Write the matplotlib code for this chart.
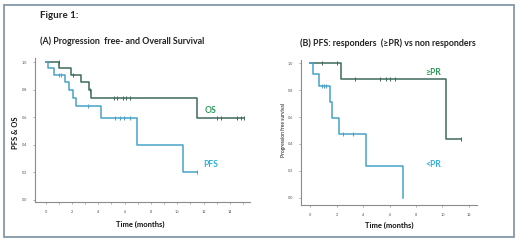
import matplotlib
matplotlib.use("Agg")
import matplotlib.pyplot as plt
from matplotlib.patches import Rectangle

plt.rcParams['font.family'] = ['Lato', 'DejaVu Sans']

# ---- Data ----
# Panel A
os_times = [0, 1.03, 1.9, 2.7, 3.27, 3.44, 11.5, 15.1]
os_surv = [1.0, 0.955, 0.91, 0.853, 0.80, 0.74, 0.593, 0.593]
os_cens_t = [1.0, 2.05, 3.4, 5.2, 5.45, 5.9, 6.1, 6.4, 13.0, 13.3, 14.5, 14.8, 15.1]
pfs_times = [0, 0.2, 0.65, 1.5, 1.8, 2.1, 2.28, 4.2, 6.95, 10.4, 11.5]
pfs_surv = [1.0, 0.958, 0.91, 0.853, 0.80, 0.74, 0.68, 0.593, 0.395, 0.2, 0.2]
pfs_cens_t = [1.0, 1.15, 3.25, 5.3, 5.65, 5.95, 6.4, 11.5]

# Panel B
ge_times = [0, 2.3, 10.3, 11.4]
ge_surv = [1.0, 0.88, 0.44, 0.44]
ge_cens_t = [0.91, 2.05, 3.39, 5.3, 5.75, 6.0, 6.4, 11.4]
lt_times = [0, 0.23, 0.62, 1.47, 1.65, 2.17, 4.2, 6.98, 6.98]
lt_surv = [1.0, 0.922, 0.835, 0.712, 0.595, 0.475, 0.2375, 0.0, 0.0]
lt_cens_t = [0.86, 1.04, 1.19, 2.5, 3.25]

yticks = [0.0, 0.2, 0.4, 0.6, 0.8, 1.0]
ytick_labels = ["0.0", "0.2", "0.4", "0.6", "0.8", "1.0"]
xticksA = [0, 2, 4, 6, 8, 10, 12, 14]
xticksB = [0, 2, 4, 6, 8, 10, 12]

C_OS = "#3e6a5d"
C_PFS = "#48a2c6"
C_OS_TXT = "#2e9a58"
C_PFS_TXT = "#33b0dc"
SPINE = "#8c8c8c"

fig = plt.figure(figsize=(5.2, 2.43), dpi=100)
fig.patch.set_facecolor("white")
fig.add_artist(Rectangle((0.0077, 0.025), 0.981, 0.953, transform=fig.transFigure,
                         fill=False, edgecolor="#8598a8", linewidth=1.3))


def step_vals(times, surv, t):
    v = surv[0]
    for ti, si in zip(times, surv):
        if t >= ti:
            v = si
    return v


def km(ax, times, surv, cens, color):
    ax.step(times, surv, where="post", color=color, linewidth=1.1)
    cy = [step_vals(times, surv, t) for t in cens]
    ax.plot(cens, cy, linestyle="none", marker="|", markersize=3.5,
            markeredgewidth=0.7, color=color)


def style(ax):
    for s in ["top", "right"]:
        ax.spines[s].set_visible(False)
    for s in ["left", "bottom"]:
        ax.spines[s].set_color(SPINE)
        ax.spines[s].set_linewidth(0.8)
    ax.tick_params(axis="both", labelsize=2.8, colors=SPINE, length=1.5,
                   width=0.5, labelcolor="#555555", pad=4)
    ax.set_yticks(yticks)
    ax.set_yticklabels(ytick_labels)


# Panel A
axA = fig.add_axes([0.0673, 0.169, 0.413, 0.592])
km(axA, os_times, os_surv, os_cens_t, C_OS)
km(axA, pfs_times, pfs_surv, pfs_cens_t, C_PFS)
style(axA)
axA.set_xlim(-0.8, 15.5)
axA.set_ylim(-0.015, 1.03)
axA.set_xticks(xticksA)
axA.set_xticks(list(range(0, 16)), minor=True)
axA.tick_params(axis="x", which="minor", length=1.5, width=0.5, colors=SPINE)
axA.set_xticklabels([str(t) for t in xticksA])
axA.text(12.5, 0.65, "OS", color=C_OS_TXT, fontsize=6.2, fontweight="bold",
         ha="center", va="center")
axA.text(12.5, 0.26, "PFS", color=C_PFS_TXT, fontsize=6.2, fontweight="bold",
         ha="center", va="center")

# Panel B
axB = fig.add_axes([0.579, 0.156, 0.338, 0.597])
km(axB, ge_times, ge_surv, ge_cens_t, C_OS)
km(axB, lt_times, lt_surv, lt_cens_t, C_PFS)
style(axB)
axB.set_xlim(-0.7, 12.6)
axB.set_ylim(-0.055, 1.025)
axB.set_xticks(xticksB)
axB.set_xticklabels([str(t) for t in xticksB])
axB.text(9.3, 0.93, "≥PR", color=C_OS_TXT, fontsize=6.2, fontweight="bold",
         ha="center", va="center")
axB.text(9.3, 0.25, "<PR", color=C_PFS_TXT, fontsize=6.2, fontweight="bold",
         ha="center", va="center")

# Texts in figure pixel positions
def fx(px):
    return px / 520.0


def fy(py):
    return 1 - py / 243.0


fig.text(fx(40), fy(15), "Figure 1:", fontsize=7, fontweight="bold",
         ha="left", va="center", color="#222222")
fig.text(fx(40), fy(41), "(A) Progression  free- and Overall Survival", fontsize=6.4,
         fontweight="bold", ha="left", va="center", color="#222222")
fig.text(fx(300), fy(43), "(B) PFS: responders  (≥PR) vs non responders", fontsize=6.4,
         fontweight="bold", ha="left", va="center", color="#222222")
fig.text(fx(140), fy(224), "Time (months)", fontsize=5.5, fontweight="bold",
         ha="center", va="center", color="#111111")
fig.text(fx(389), fy(225), "Time (months)", fontsize=5.5, fontweight="bold",
         ha="center", va="center", color="#111111")
fig.text(fx(16), fy(133), "PFS & OS", fontsize=5.5, fontweight="bold",
         ha="center", va="center", rotation=90, color="#111111")
fig.text(fx(283), fy(130), "Progression free survival", fontsize=3.5,
         ha="center", va="center", rotation=90, color="#111111")

fig.savefig("out.png", dpi=100, facecolor="white")
